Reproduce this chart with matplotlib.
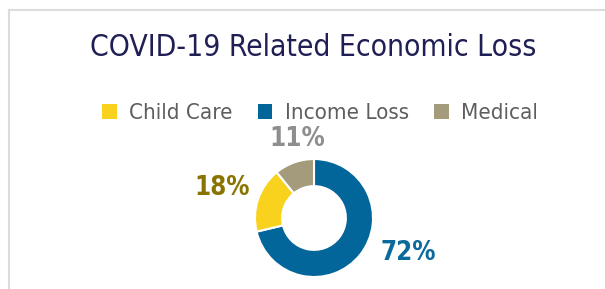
import matplotlib.pyplot as plt
from matplotlib.patches import Patch
from matplotlib.lines import Line2D

# data
categories = ["Child Care", "Income Loss", "Medical"]
shares = [18, 72, 11]
labels = ["18%", "72%", "11%"]

colors = {"Child Care": "#F8D21C", "Income Loss": "#02669B", "Medical": "#A39B7B"}
label_colors = {"Child Care": "#8A7400", "Income Loss": "#0B6A9C", "Medical": "#8E8E8E"}
# where each percentage sits, in pie units
label_pos = {"Child Care": (-1.56, 0.51), "Income Loss": (1.59, -0.59), "Medical": (-0.29, 1.34)}

W, H = 605, 289
fig = plt.figure(figsize=(W / 100, H / 100), dpi=100)
fig.patch.set_facecolor("white")

# thin card border on the top and left
fig.add_artist(Line2D([9 / W, 9 / W], [0, 1 - 10 / H], transform=fig.transFigure,
                      color="#DCDCDC", lw=1.5))
fig.add_artist(Line2D([9 / W, 1], [1 - 10 / H, 1 - 10 / H], transform=fig.transFigure,
                      color="#DCDCDC", lw=1.5))

fig.text(313 / W, 1 - 47 / H, "COVID-19 Related Economic Loss", ha="center", va="center",
         fontsize=21.5, color="#1F1F55", fontstretch="condensed")

# pie drawn clockwise from 12 o'clock: Income Loss, Child Care, Medical
order = ["Income Loss", "Child Care", "Medical"]
vals = [shares[categories.index(c)] for c in order]

cx, cy, r = 314, 218, 59
ax = fig.add_axes([(cx - r) / W, (H - cy - r) / H, 2 * r / W, 2 * r / H])
ax.pie(vals, colors=[colors[c] for c in order], startangle=90, counterclock=False,
       wedgeprops=dict(width=0.46, edgecolor="white", linewidth=1.5))
ax.set_xlim(-1, 1)
ax.set_ylim(-1, 1)
ax.set_aspect("equal")
ax.axis("off")

for c, lab in zip(categories, labels):
    x, y = label_pos[c]
    ax.text(x, y, lab, ha="center", va="center", fontsize=18.5, fontweight="bold",
            color=label_colors[c], fontstretch="condensed", clip_on=False)

handles = [Patch(facecolor=colors[c], edgecolor="none") for c in categories]
leg = fig.legend(handles, categories, loc="center", bbox_to_anchor=(320 / W, 1 - 113 / H),
                 ncol=3, frameon=False, handlelength=0.65, handleheight=0.65,
                 handletextpad=0.55, columnspacing=1.15,
                 prop={"size": 16, "stretch": "condensed"})
for t in leg.get_texts():
    t.set_color("#5E5E5E")

fig.savefig("out.png", dpi=100, facecolor="white")
